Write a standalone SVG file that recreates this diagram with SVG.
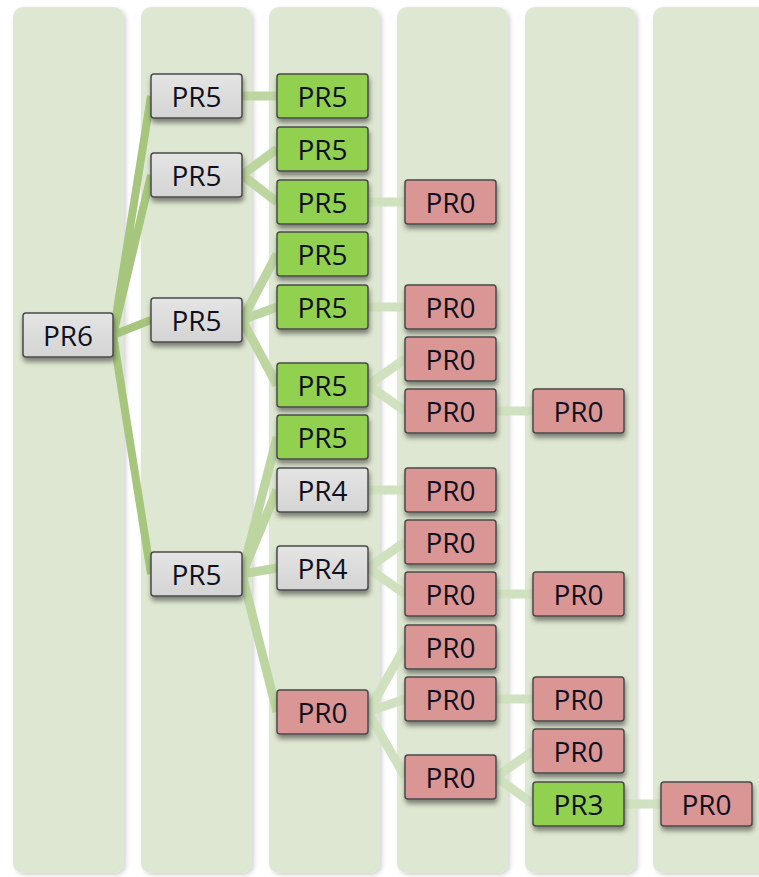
<svg xmlns="http://www.w3.org/2000/svg" width="759" height="877" viewBox="0 0 759 877">
<defs>
<filter id="colsh" x="-10%" y="-2%" width="125%" height="105%"><feDropShadow dx="2" dy="2" stdDeviation="2" flood-color="#000" flood-opacity="0.18"/></filter>
<filter id="boxsh" x="-20%" y="-20%" width="140%" height="170%"><feDropShadow dx="1" dy="4" stdDeviation="2.5" flood-color="#000" flood-opacity="0.45"/></filter>
<linearGradient id="gGray" x1="0" y1="0" x2="0" y2="1"><stop offset="0" stop-color="#e4e4e4"/><stop offset="1" stop-color="#d4d4d4"/></linearGradient>
</defs>
<style>
.col{fill:#dee7d1;filter:url(#colsh)}
.box rect{stroke:#4a4a4a;stroke-width:1.5;filter:url(#boxsh)}
.gray rect{fill:url(#gGray)}
.green rect{fill:#92d050}
.red rect{fill:#da9694}
.box text{font-family:"Open Sans","Noto Sans",sans-serif;font-size:28px;fill:#101020;text-anchor:middle}
.c1{stroke:#a5c67c;stroke-width:8;fill:none;stroke-linecap:butt}
.c2{stroke:#bdd5a1;stroke-width:9;fill:none}
.c3{stroke:#d0e1bf;stroke-width:9;fill:none}
</style>
<rect width="759" height="877" fill="#ffffff"/>
<g id="columns">
<rect class="col" x="13" y="7" width="111" height="866" rx="10"/>
<rect class="col" x="141" y="7" width="111" height="866" rx="10"/>
<rect class="col" x="269" y="7" width="111" height="866" rx="10"/>
<rect class="col" x="397" y="7" width="111" height="866" rx="10"/>
<rect class="col" x="525" y="7" width="111" height="866" rx="10"/>
<rect class="col" x="653" y="7" width="120" height="866" rx="10"/>
</g>
<g id="connectors">
<path class="c1" d="M113,335 L151,96 M113,335 L151,175 M113,335 L151,320 M113,335 L151,574"/>
<path class="c2" d="M242,96 L277,96 M242,175 L277,149 M242,175 L277,202 M242,320 L277,254 M242,320 L277,307 M242,320 L277,385 M242,574 L277,437 M242,574 L277,490 M242,574 L277,568 M242,574 L277,712"/>
<path class="c3" d="M368,202 L405,202 M368,307 L405,307 M368,385 L405,359 M368,385 L405,411 M368,490 L405,490 M368,568 L405,542 M368,568 L405,594 M368,712 L405,647 M368,712 L405,699 M368,712 L405,777"/>
<path class="c3" d="M496,411 L533,411 M496,594 L533,594 M496,699 L533,699 M496,777 L533,751 M496,777 L533,804 M624,804 L661,804"/>
</g>
<g id="n1" class="box gray"><rect x="23" y="313" width="90" height="44" rx="3"/><text x="68" y="346">PR6</text></g>
<g id="n2" class="box gray"><rect x="151" y="74" width="91" height="44" rx="3"/><text x="196.5" y="107">PR5</text></g>
<g id="n3" class="box gray"><rect x="151" y="153" width="91" height="44" rx="3"/><text x="196.5" y="186">PR5</text></g>
<g id="n4" class="box gray"><rect x="151" y="298" width="91" height="44" rx="3"/><text x="196.5" y="331">PR5</text></g>
<g id="n5" class="box gray"><rect x="151" y="552" width="91" height="44" rx="3"/><text x="196.5" y="585">PR5</text></g>
<g id="n6" class="box green"><rect x="277" y="74" width="91" height="44" rx="3"/><text x="322.5" y="107">PR5</text></g>
<g id="n7" class="box green"><rect x="277" y="127" width="91" height="44" rx="3"/><text x="322.5" y="160">PR5</text></g>
<g id="n8" class="box green"><rect x="277" y="180" width="91" height="44" rx="3"/><text x="322.5" y="213">PR5</text></g>
<g id="n9" class="box green"><rect x="277" y="232" width="91" height="44" rx="3"/><text x="322.5" y="265">PR5</text></g>
<g id="n10" class="box green"><rect x="277" y="285" width="91" height="44" rx="3"/><text x="322.5" y="318">PR5</text></g>
<g id="n11" class="box green"><rect x="277" y="363" width="91" height="44" rx="3"/><text x="322.5" y="396">PR5</text></g>
<g id="n12" class="box green"><rect x="277" y="415" width="91" height="44" rx="3"/><text x="322.5" y="448">PR5</text></g>
<g id="n13" class="box gray"><rect x="277" y="468" width="91" height="44" rx="3"/><text x="322.5" y="501">PR4</text></g>
<g id="n14" class="box gray"><rect x="277" y="546" width="91" height="44" rx="3"/><text x="322.5" y="579">PR4</text></g>
<g id="n15" class="box red"><rect x="277" y="690" width="91" height="44" rx="3"/><text x="322.5" y="723">PR0</text></g>
<g id="n16" class="box red"><rect x="405" y="180" width="91" height="44" rx="3"/><text x="450.5" y="213">PR0</text></g>
<g id="n17" class="box red"><rect x="405" y="285" width="91" height="44" rx="3"/><text x="450.5" y="318">PR0</text></g>
<g id="n18" class="box red"><rect x="405" y="337" width="91" height="44" rx="3"/><text x="450.5" y="370">PR0</text></g>
<g id="n19" class="box red"><rect x="405" y="389" width="91" height="44" rx="3"/><text x="450.5" y="422">PR0</text></g>
<g id="n20" class="box red"><rect x="405" y="468" width="91" height="44" rx="3"/><text x="450.5" y="501">PR0</text></g>
<g id="n21" class="box red"><rect x="405" y="520" width="91" height="44" rx="3"/><text x="450.5" y="553">PR0</text></g>
<g id="n22" class="box red"><rect x="405" y="572" width="91" height="44" rx="3"/><text x="450.5" y="605">PR0</text></g>
<g id="n23" class="box red"><rect x="405" y="625" width="91" height="44" rx="3"/><text x="450.5" y="658">PR0</text></g>
<g id="n24" class="box red"><rect x="405" y="677" width="91" height="44" rx="3"/><text x="450.5" y="710">PR0</text></g>
<g id="n25" class="box red"><rect x="405" y="755" width="91" height="44" rx="3"/><text x="450.5" y="788">PR0</text></g>
<g id="n26" class="box red"><rect x="533" y="389" width="91" height="44" rx="3"/><text x="578.5" y="422">PR0</text></g>
<g id="n27" class="box red"><rect x="533" y="572" width="91" height="44" rx="3"/><text x="578.5" y="605">PR0</text></g>
<g id="n28" class="box red"><rect x="533" y="677" width="91" height="44" rx="3"/><text x="578.5" y="710">PR0</text></g>
<g id="n29" class="box red"><rect x="533" y="729" width="91" height="44" rx="3"/><text x="578.5" y="762">PR0</text></g>
<g id="n30" class="box green"><rect x="533" y="782" width="91" height="44" rx="3"/><text x="578.5" y="815">PR3</text></g>
<g id="n31" class="box red"><rect x="661" y="782" width="91" height="44" rx="3"/><text x="706.5" y="815">PR0</text></g>
</svg>
